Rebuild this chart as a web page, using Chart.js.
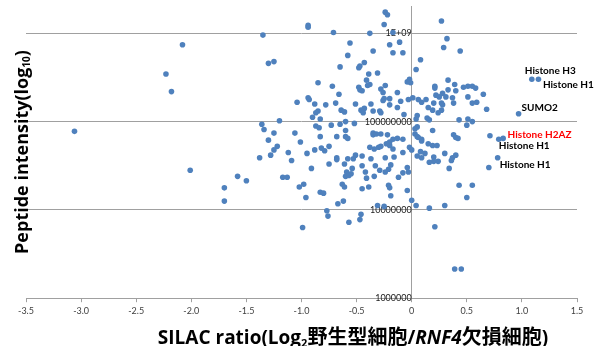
<!DOCTYPE html>
<html>
<head>
<meta charset="utf-8">
<script src="https://cdn.jsdelivr.net/npm/chart.js@4/dist/chart.umd.min.js"></script>
<style>
  html, body { margin: 0; padding: 0; background: #fff; }
  #chart { display: block; }
</style>
</head>
<body>
<canvas id="chart" width="597" height="346"></canvas>
<script>
// SILAC ratio (log2 WT / RNF4 KO) for each peptide
const silacRatio = [
  -1.35, -0.94, -0.94, -0.71, -0.24, -0.22, -0.25, 0.27, -0.38, -0.17,
  -0.56, -0.20, -0.11, -0.35, -0.17, -0.08, -0.58, 0.32, 0.29, 0.44,
  0.08, 0.04, -0.65, -0.43, -0.47, -0.48, -0.39, -0.31, -0.41, -0.38,
  -0.40, -0.48, -0.47, -0.45, -0.28, -0.24, -0.26, -0.13, -0.04, -0.02,
  -0.01, 0.21, 0.21, 0.33, 0.39, 0.28, 0.33, 0.40, 0.47, 0.51,
  0.55, 0.58, 0.65, -1.30, -1.25, -0.85, -0.72, -0.66, -2.08, -2.23,
  -2.18, 1.09, 1.15,
  -0.94, -0.93, -1.04, -0.88, -0.78, -0.69, -0.64, -0.61, -0.85, -0.87,
  -0.90, -0.83, -0.87, -0.84, -0.73, -0.65, -0.60, -0.60, -1.20, -1.36,
  -1.34, -1.25, -1.06, -0.83, -0.68, -0.60, -0.58, -1.30, -1.01, -1.22,
  -1.25, -0.88, -0.82, -0.79, -0.75, -1.12, -0.95, -1.28, -1.38, -1.09,
  -0.68, -0.68, -0.58, -0.75, -0.61, -0.91, -0.59, -0.60, -1.17, -1.13,
  -3.06, -2.01, -1.58, -1.50,
  -0.51, -0.37, -0.26, -0.25, -0.20, -0.10, -0.03, 0.01, 0.06, 0.09,
  0.13, 0.22, 0.25, 0.31, 0.37, 0.51, 0.55, 0.59, -0.46, -0.43,
  -0.44, -0.35, -0.29, -0.28, -0.20, -0.13, -0.07, 0.15, 0.20, 0.27,
  0.28, 0.19, 0.27, 0.24, 0.38, 0.68, 0.05, 0.04, 0.14, 0.16,
  0.43, 0.51, 0.55, 0.50, -0.52, 0.05, 0.03, 0.19, -0.35, -0.35,
  -0.32, -0.28, 0.03, 0.05, 0.06, 0.09, 0.09, 0.15, 0.19, 0.23,
  0.38, 0.40, 0.42, 0.71, -0.22, -0.17, -0.20, -0.13, -0.08, -0.02,
  0.00, 0.08, 0.12, 0.30, -0.38, -0.34, -0.30, -0.28, -0.23, -0.20,
  -0.17, -0.51, -0.45, 0.05, 0.09, 0.20, 0.20, 0.24, 0.16, 0.37,
  0.40, 0.36, 0.78, -0.53, -0.45, -0.37, -0.24, -0.16, -0.08, -0.19,
  0.70, 0.34, -0.54, -0.42, -0.33, -0.21, -0.12, -0.08, -0.04, -0.03,
  0.97, 0.79, 0.83,
  -1.70, -1.70, -1.02, -0.98, -0.96, -0.83, -0.80, -0.67, -0.62, -0.77,
  -0.76, -0.99, -0.63, -0.61, -0.57, -0.55, -0.57, -0.41, -0.34, -0.29,
  -0.24, -0.45, -0.39, -0.21, -0.20, -0.19, -0.04, 0.00, 0.04, 0.16,
  0.30, -0.31, -0.25, -0.46, -0.47, 0.21, 0.43, 0.55, 0.50, 0.39,
  0.45
];

// log10 of peptide intensity, same order as silacRatio
const logIntensity = [
  8.98, 9.09, 9.07, 9.01, 9.24, 9.21, 9.10, 9.14, 9.00, 9.01,
  8.89, 8.87, 8.90, 8.80, 8.78, 8.78, 8.75, 8.94, 8.84, 8.80,
  8.70, 8.59, 8.62, 8.67, 8.63, 8.61, 8.54, 8.55, 8.47, 8.42,
  8.41, 8.39, 8.36, 8.35, 8.37, 8.41, 8.33, 8.33, 8.45, 8.48,
  8.44, 8.40, 8.38, 8.47, 8.42, 8.32, 8.36, 8.35, 8.39, 8.40,
  8.40, 8.38, 8.31, 8.66, 8.68, 8.44, 8.40, 8.31, 8.87, 8.54,
  8.34, 8.48, 8.48,
  8.27, 8.25, 8.22, 8.20, 8.19, 8.21, 8.13, 8.11, 8.12, 8.10,
  8.05, 8.03, 7.95, 7.93, 7.96, 7.97, 8.00, 7.90, 8.01, 7.97,
  7.91, 7.87, 7.87, 7.83, 7.83, 7.83, 7.81, 7.79, 7.77, 7.72,
  7.68, 7.68, 7.70, 7.67, 7.72, 7.65, 7.64, 7.62, 7.59, 7.56,
  7.59, 7.57, 7.58, 7.52, 7.52, 7.47, 7.43, 7.38, 7.37, 7.37,
  7.89, 7.45, 7.38, 7.33,
  8.20, 8.20, 8.24, 8.26, 8.26, 8.23, 8.25, 8.27, 8.25, 8.22,
  8.25, 8.30, 8.28, 8.28, 8.27, 8.28, 8.21, 8.22, 8.13, 8.15,
  8.10, 8.12, 8.12, 8.10, 8.19, 8.16, 8.08, 8.16, 8.21, 8.21,
  8.19, 8.13, 8.13, 8.10, 8.21, 8.14, 8.07, 8.03, 8.04, 8.02,
  8.02, 8.03, 8.00, 7.96, 7.98, 7.94, 7.92, 7.90, 7.87, 7.85,
  7.86, 7.86, 7.86, 7.83, 7.82, 7.80, 7.78, 7.75, 7.73, 7.73,
  7.85, 7.82, 7.81, 7.84, 7.85, 7.80, 7.77, 7.81, 7.80, 7.71,
  7.68, 7.66, 7.64, 7.64, 7.71, 7.69, 7.71, 7.72, 7.75, 7.73,
  7.69, 7.62, 7.61, 7.61, 7.59, 7.60, 7.55, 7.55, 7.54, 7.59,
  7.62, 7.56, 7.59, 7.58, 7.50, 7.58, 7.59, 7.60, 7.65, 7.51,
  7.48, 7.47, 7.47, 7.43, 7.50, 7.46, 7.37, 7.42, 7.48, 7.43,
  8.09, 7.80, 7.81,
  7.25, 7.10, 7.26, 7.29, 7.14, 7.20, 7.19, 7.07, 7.10, 6.99,
  6.93, 6.80, 7.29, 7.26, 7.39, 7.41, 6.86, 7.36, 7.38, 7.45,
  7.43, 7.24, 7.26, 7.28, 7.25, 7.16, 7.22, 7.11, 7.05, 7.02,
  7.05, 7.05, 7.04, 6.95, 6.89, 6.81, 7.28, 7.28, 7.14, 6.33,
  6.33
];

const xTicks = [-3.5, -3, -2.5, -2, -1.5, -1, -0.5, 0, 0.5, 1, 1.5];
const yTicks = [1e6, 1e7, 1e8, 1e9];
const yTickLabels = ['1000000', '10000000', '100000000', '1E+09'];

// labelled proteins: text and the point they sit next to
const calloutText = ['Histone H3', 'Histone H1', 'SUMO2', 'Histone H2AZ', 'Histone H1', 'Histone H1'];
const calloutX = [1.09, 1.15, 0.97, 0.83, 0.79, 0.78];
const calloutY = [8.48, 8.48, 8.09, 7.81, 7.80, 7.59];

const BLUE = '#4f81bd';
const GRID = '#a0a0a0';
const LATIN = 'Lato, "Liberation Sans", sans-serif';
const TITLE_FONT = '"Open Sans", "Noto Sans CJK JP", sans-serif';
const CJK_FONT = '"Noto Sans CJK JP", sans-serif';

const points = silacRatio.map((x, i) => ({ x: x, y: Math.pow(10, logIntensity[i]) }));

// draw a row of text pieces centred on cx (each piece can have its own font / shift)
function drawRuns(ctx, runs, cx, baseline) {
    let total = 0;
    runs.forEach(r => {
        ctx.font = r.font;
        r.w = ctx.measureText(r.text).width;
        total += r.w;
    });
    let x = cx - total / 2;
    runs.forEach(r => {
        ctx.font = r.font;
        ctx.fillText(r.text, x, baseline + (r.shift || 0));
        x += r.w;
    });
}

const overlay = {
    id: 'overlay',
    afterDraw(chart) {
        const ctx = chart.ctx;
        const xs = chart.scales.x;
        const ys = chart.scales.y;
        ctx.save();
        ctx.fillStyle = '#000';
        ctx.textAlign = 'left';
        ctx.textBaseline = 'alphabetic';

        // x axis title
        drawRuns(ctx, [
            { text: 'SILAC ratio(Log', font: 'bold 19px ' + TITLE_FONT },
            { text: '2', font: 'bold 11px ' + TITLE_FONT, shift: 3 },
            { text: '野生型細胞', font: 'bold 20px ' + CJK_FONT },
            { text: '/', font: 'bold 19px ' + TITLE_FONT },
            { text: 'RNF4', font: 'italic bold 19px ' + TITLE_FONT },
            { text: '欠損細胞', font: 'bold 20px ' + CJK_FONT },
            { text: ')', font: 'bold 19px ' + TITLE_FONT }
        ], 353, 344);

        // y axis title
        ctx.save();
        ctx.translate(28, 152);
        ctx.rotate(-Math.PI / 2);
        drawRuns(ctx, [
            { text: 'Peptide intensity(log', font: 'bold 18px ' + TITLE_FONT },
            { text: '10', font: 'bold 10px ' + TITLE_FONT, shift: 2 },
            { text: ')', font: 'bold 18px ' + TITLE_FONT }
        ], 0, 0);
        ctx.restore();

        // callouts
        const offsets = [[-7, -8], [4.5, 5.6], [3, -5.6], [4.4, -3.7], [0, 6], [2, 6.7]];
        ctx.font = 'bold 10px ' + LATIN;
        ctx.textBaseline = 'middle';
        calloutText.forEach((t, i) => {
            const px = xs.getPixelForValue(calloutX[i]);
            const py = ys.getPixelForValue(Math.pow(10, calloutY[i]));
            ctx.fillStyle = t === 'Histone H2AZ' ? '#ff0000' : '#000';
            ctx.fillText(t, px + offsets[i][0], py + offsets[i][1]);
        });
        ctx.restore();
    }
};

new Chart(document.getElementById('chart'), {
    type: 'scatter',
    data: {
        datasets: [{
            data: points,
            backgroundColor: BLUE,
            borderColor: BLUE,
            borderWidth: 0,
            pointRadius: 2.8,
            pointHoverRadius: 2.8
        }]
    },
    options: {
        responsive: false,
        animation: false,
        devicePixelRatio: 1,
        layout: { padding: { left: 26, right: 20, top: 6, bottom: 27 } },
        plugins: {
            legend: { display: false },
            tooltip: { enabled: false }
        },
        scales: {
            x: {
                type: 'linear',
                position: 'bottom',
                min: -3.5,
                max: 1.5,
                afterBuildTicks: axis => { axis.ticks = xTicks.map(v => ({ value: v })); },
                ticks: { color: '#404040', font: { size: 9, family: LATIN }, padding: 3, autoSkip: false, maxRotation: 0 },
                grid: { drawOnChartArea: false, tickLength: 4, color: GRID },
                border: { color: GRID }
            },
            y: {
                type: 'logarithmic',
                position: { x: 0 },
                min: 1e6,
                max: 2.04e9,
                afterBuildTicks: axis => { axis.ticks = yTicks.map(v => ({ value: v })); },
                // labels sit inside the plot, so they need no extra room above/below
                afterFit: axis => { axis.paddingTop = 0; axis.paddingBottom = 0; },
                ticks: {
                    color: '#202020',
                    font: { size: 9, family: LATIN },
                    padding: 8,
                    callback: (v) => yTickLabels[yTicks.indexOf(v)]
                },
                grid: { color: GRID, drawTicks: false },
                border: { color: GRID }
            }
        }
    },
    plugins: [overlay]
});
</script>
</body>
</html>
